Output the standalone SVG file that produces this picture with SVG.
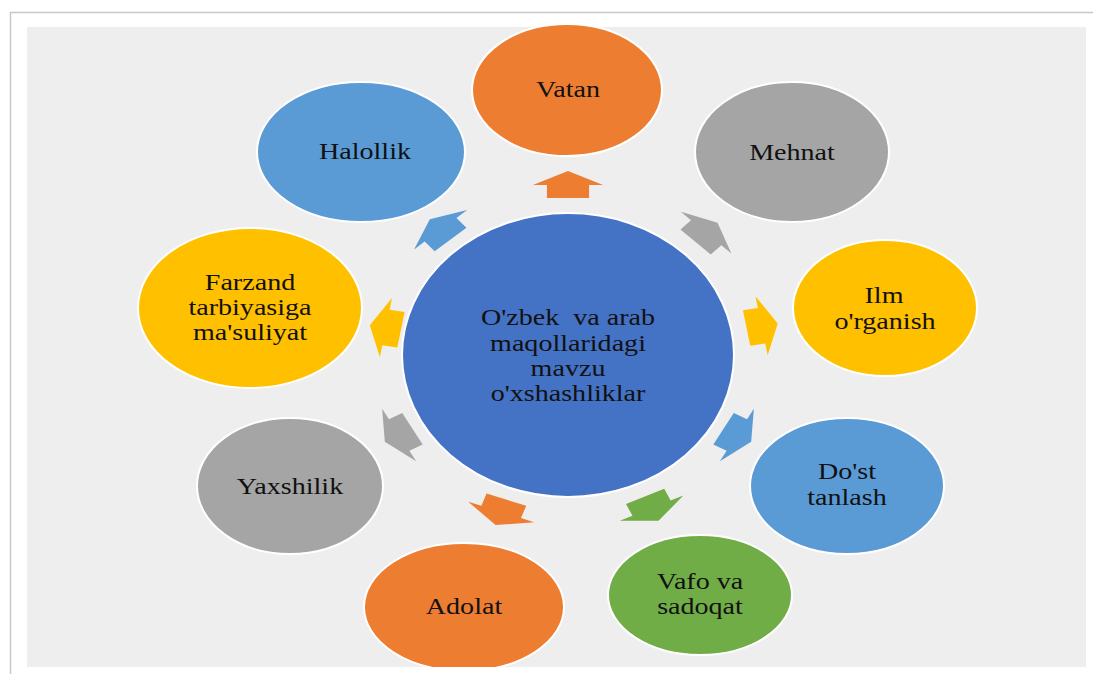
<svg xmlns="http://www.w3.org/2000/svg" width="1093" height="674" viewBox="0 0 1093 674">
<defs>
<style>
.lbl{font-family:"Liberation Serif","Times New Roman",serif;font-size:24px;fill:#111111;text-anchor:middle}
.nd{stroke:#ffffff;stroke-width:2}
.or{fill:#ED7D31}.gy{fill:#A5A5A5}.yl{fill:#FFC000}.lb{fill:#5B9BD5}.gr{fill:#70AD47}.bl{fill:#4472C4}
</style>
<clipPath id="clip"><rect x="0" y="0" width="1093" height="667"/></clipPath>
<polygon id="arr" points="0,-14 30,0 18,0 18,13 -18,13 -18,0 -30,0"/>
</defs>
<rect x="0" y="0" width="1093" height="674" fill="#ffffff"/>
<rect x="10.5" y="12.5" width="1090" height="670" fill="#ffffff" stroke="#c8c8c8" stroke-width="1.5"/>
<rect x="27" y="27" width="1059" height="640" fill="#EEEEEE"/>
<g clip-path="url(#clip)">
<g id="connectors">
<use href="#arr" class="or" transform="translate(568,355) scale(1.17,1) rotate(0) translate(0,-170)"/>
<use href="#arr" class="gy" transform="translate(568,355) scale(1.17,1) rotate(44) translate(0,-170)"/>
<use href="#arr" class="yl" transform="translate(568,355) scale(1.17,1) rotate(80) translate(0,-168)"/>
<use href="#arr" class="lb" transform="translate(568,355) scale(1.17,1) rotate(119) translate(0,-165)"/>
<use href="#arr" class="gr" transform="translate(568,355) scale(1.17,1) rotate(155) translate(0,-169)"/>
<use href="#arr" class="or" transform="translate(568,355) scale(1.17,1) rotate(200) translate(0,-167)"/>
<use href="#arr" class="gy" transform="translate(568,355) scale(1.17,1) rotate(241) translate(0,-165)"/>
<use href="#arr" class="yl" transform="translate(568,355) scale(1.17,1) rotate(280) translate(0,-158)"/>
<use href="#arr" class="lb" transform="translate(568,355) scale(1.17,1) rotate(319) translate(0,-166)"/>
</g>
<g id="center">
<ellipse class="nd bl" cx="568" cy="355" rx="166" ry="142"/>
<text class="lbl" transform="translate(568,325) scale(1.17,1)">O'zbek&#160; va arab</text>
<text class="lbl" transform="translate(568,351) scale(1.17,1)">maqollaridagi</text>
<text class="lbl" transform="translate(568,376) scale(1.17,1)">mavzu</text>
<text class="lbl" transform="translate(568,401) scale(1.17,1)">o'xshashliklar</text>
</g>
<g id="vatan">
<ellipse class="nd or" cx="567" cy="90" rx="95" ry="66"/>
<text class="lbl" transform="translate(568,97) scale(1.17,1)">Vatan</text>
</g>
<g id="mehnat">
<ellipse class="nd gy" cx="792" cy="152" rx="97" ry="70"/>
<text class="lbl" transform="translate(792,160) scale(1.17,1)">Mehnat</text>
</g>
<g id="ilm">
<ellipse class="nd yl" cx="885" cy="308" rx="92" ry="68"/>
<text class="lbl" transform="translate(884,303) scale(1.17,1)">Ilm</text>
<text class="lbl" transform="translate(885,329) scale(1.17,1)">o'rganish</text>
</g>
<g id="dost">
<ellipse class="nd lb" cx="847" cy="486" rx="97" ry="68"/>
<text class="lbl" transform="translate(847,479) scale(1.17,1)">Do'st</text>
<text class="lbl" transform="translate(847,505) scale(1.17,1)">tanlash</text>
</g>
<g id="vafo">
<ellipse class="nd gr" cx="700" cy="595" rx="92" ry="60"/>
<text class="lbl" transform="translate(700,589) scale(1.17,1)">Vafo va</text>
<text class="lbl" transform="translate(700,614) scale(1.17,1)">sadoqat</text>
</g>
<g id="adolat">
<ellipse class="nd or" cx="464" cy="607" rx="100" ry="64"/>
<text class="lbl" transform="translate(464,614) scale(1.17,1)">Adolat</text>
</g>
<g id="yaxshilik">
<ellipse class="nd gy" cx="290" cy="486" rx="93" ry="68"/>
<text class="lbl" transform="translate(290,494) scale(1.17,1)">Yaxshilik</text>
</g>
<g id="farzand">
<ellipse class="nd yl" cx="250" cy="308" rx="112" ry="80"/>
<text class="lbl" transform="translate(250,290) scale(1.17,1)">Farzand</text>
<text class="lbl" transform="translate(250,315) scale(1.17,1)">tarbiyasiga</text>
<text class="lbl" transform="translate(250,340) scale(1.17,1)">ma'suliyat</text>
</g>
<g id="halollik">
<ellipse class="nd lb" cx="361" cy="152" rx="104" ry="70"/>
<text class="lbl" transform="translate(365,159) scale(1.17,1)">Halollik</text>
</g>
</g>
</svg>
